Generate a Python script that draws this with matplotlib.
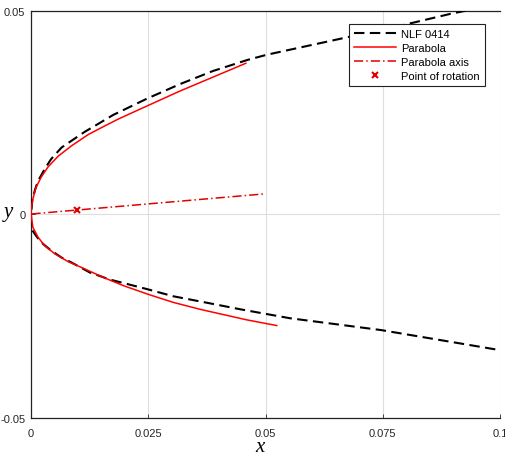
import matplotlib
matplotlib.use("Agg")
import matplotlib.pyplot as plt

# NLF 0414 leading-edge contour (upper TE -> nose -> lower TE)
nlf_x = [0.0994, 0.0893, 0.0787, 0.0659, 0.0503, 0.0461, 0.0388, 0.0318, 0.0247,
         0.0175, 0.0143, 0.0115, 0.0093, 0.0065, 0.0043, 0.0029, 0.0015, 0.0009,
         0.0003, 0.0001, 0.0,
         0.0000, 0.0001, 0.0011, 0.0022, 0.0043, 0.0065, 0.0086, 0.0126, 0.0168,
         0.0249, 0.0303, 0.0375, 0.0446, 0.0552, 0.0746, 0.0998]
nlf_y = [0.0516, 0.0492, 0.0463, 0.0431, 0.0392, 0.0379, 0.0352, 0.0320, 0.0284,
         0.0244, 0.0222, 0.0203, 0.0186, 0.0164, 0.0136, 0.0111, 0.0082, 0.0062,
         0.0038, 0.0013, 0.0,
         -0.0016, -0.0036, -0.0053, -0.0069, -0.0089, -0.0106, -0.0118, -0.0143, -0.0160,
         -0.0184, -0.0201, -0.0217, -0.0233, -0.0255, -0.0284, -0.0333]

# fitted parabola (upper end -> vertex -> lower end)
par_x = [0.0458, 0.0388, 0.0318, 0.0247, 0.0186, 0.0157, 0.0122, 0.0086, 0.0058,
         0.0036, 0.0022, 0.0011, 0.0004, 0.0001, 0.0,
         0.0004, 0.0015, 0.0029, 0.0051, 0.0079, 0.0107, 0.0126, 0.0161, 0.0197,
         0.0249, 0.0303, 0.0360, 0.0410, 0.0460, 0.0524]
par_y = [0.0371, 0.0337, 0.0303, 0.0266, 0.0234, 0.0217, 0.0196, 0.0168, 0.0143,
         0.0116, 0.0092, 0.0067, 0.0038, 0.0018, 0.0001,
         -0.0032, -0.0056, -0.0077, -0.0097, -0.0116, -0.0130, -0.0140, -0.0158, -0.0175,
         -0.0196, -0.0216, -0.0233, -0.0246, -0.0259, -0.0273]

# parabola axis and point of rotation
axis_x = [0.0001, 0.0495]
axis_y = [0.0001, 0.0050]
rot_x = [0.0097]
rot_y = [0.0011]

xticks = [0, 0.025, 0.05, 0.075, 0.1]
xtick_labels = ["0", "0.025", "0.05", "0.075", "0.1"]
yticks = [-0.05, 0, 0.05]
ytick_labels = ["-0.05", "0", "0.05"]

plt.rcParams["font.family"] = ["Liberation Sans", "DejaVu Sans"]

fig = plt.figure(figsize=(5.06, 4.56), dpi=100)
ax = fig.add_axes([0.0613, 0.0811, 0.9269, 0.8932])

ax.plot(nlf_x, nlf_y, color="black", linestyle=(0, (5, 2.6)), linewidth=1.5,
        label="NLF 0414", zorder=3)
ax.plot(par_x, par_y, color="#ff0000", linestyle="-", linewidth=1.1,
        label="Parabola", zorder=4)
ax.plot(axis_x, axis_y, color="#e00000", linestyle=(0, (6, 2, 1, 2)), linewidth=1.1,
        label="Parabola axis", zorder=4)
ax.plot(rot_x, rot_y, color="#e00000", linestyle="none", marker="x", markersize=5,
        markeredgewidth=1.5, label="Point of rotation", zorder=5)

ax.set_xlim(0, 0.1)
ax.set_ylim(-0.05, 0.05)
ax.set_xticks(xticks)
ax.set_xticklabels(xtick_labels)
ax.set_yticks(yticks)
ax.set_yticklabels(ytick_labels)
ax.tick_params(direction="in", length=3, width=0.6, labelsize=8, colors="#262626")
ax.tick_params(axis="x", pad=7)
ax.tick_params(axis="y", pad=4)
ax.grid(True, color="#dedede", linewidth=0.8)
ax.set_axisbelow(True)

for side in ["left", "bottom", "top"]:
    ax.spines[side].set_linewidth(0.9)
    ax.spines[side].set_color("#222222")
ax.spines["right"].set_visible(False)

ax.set_xlabel("x", fontsize=15, fontstyle="italic", family="Liberation Serif",
              va="center")
ax.xaxis.set_label_coords(0.488, -0.069)
ax.set_ylabel("y", fontsize=15, fontstyle="italic", family="Liberation Serif",
              rotation=0, va="center", ha="center")
ax.yaxis.set_label_coords(-0.049, 0.506)

leg = ax.legend(loc="upper right", bbox_to_anchor=(0.968, 0.967), fontsize=8,
                frameon=True, fancybox=False, edgecolor="#222222", framealpha=1,
                handlelength=3.8, handletextpad=0.5, borderpad=0.45,
                labelspacing=0.35, borderaxespad=0)
leg.get_frame().set_linewidth(0.8)

fig.savefig("out.png", dpi=100)
